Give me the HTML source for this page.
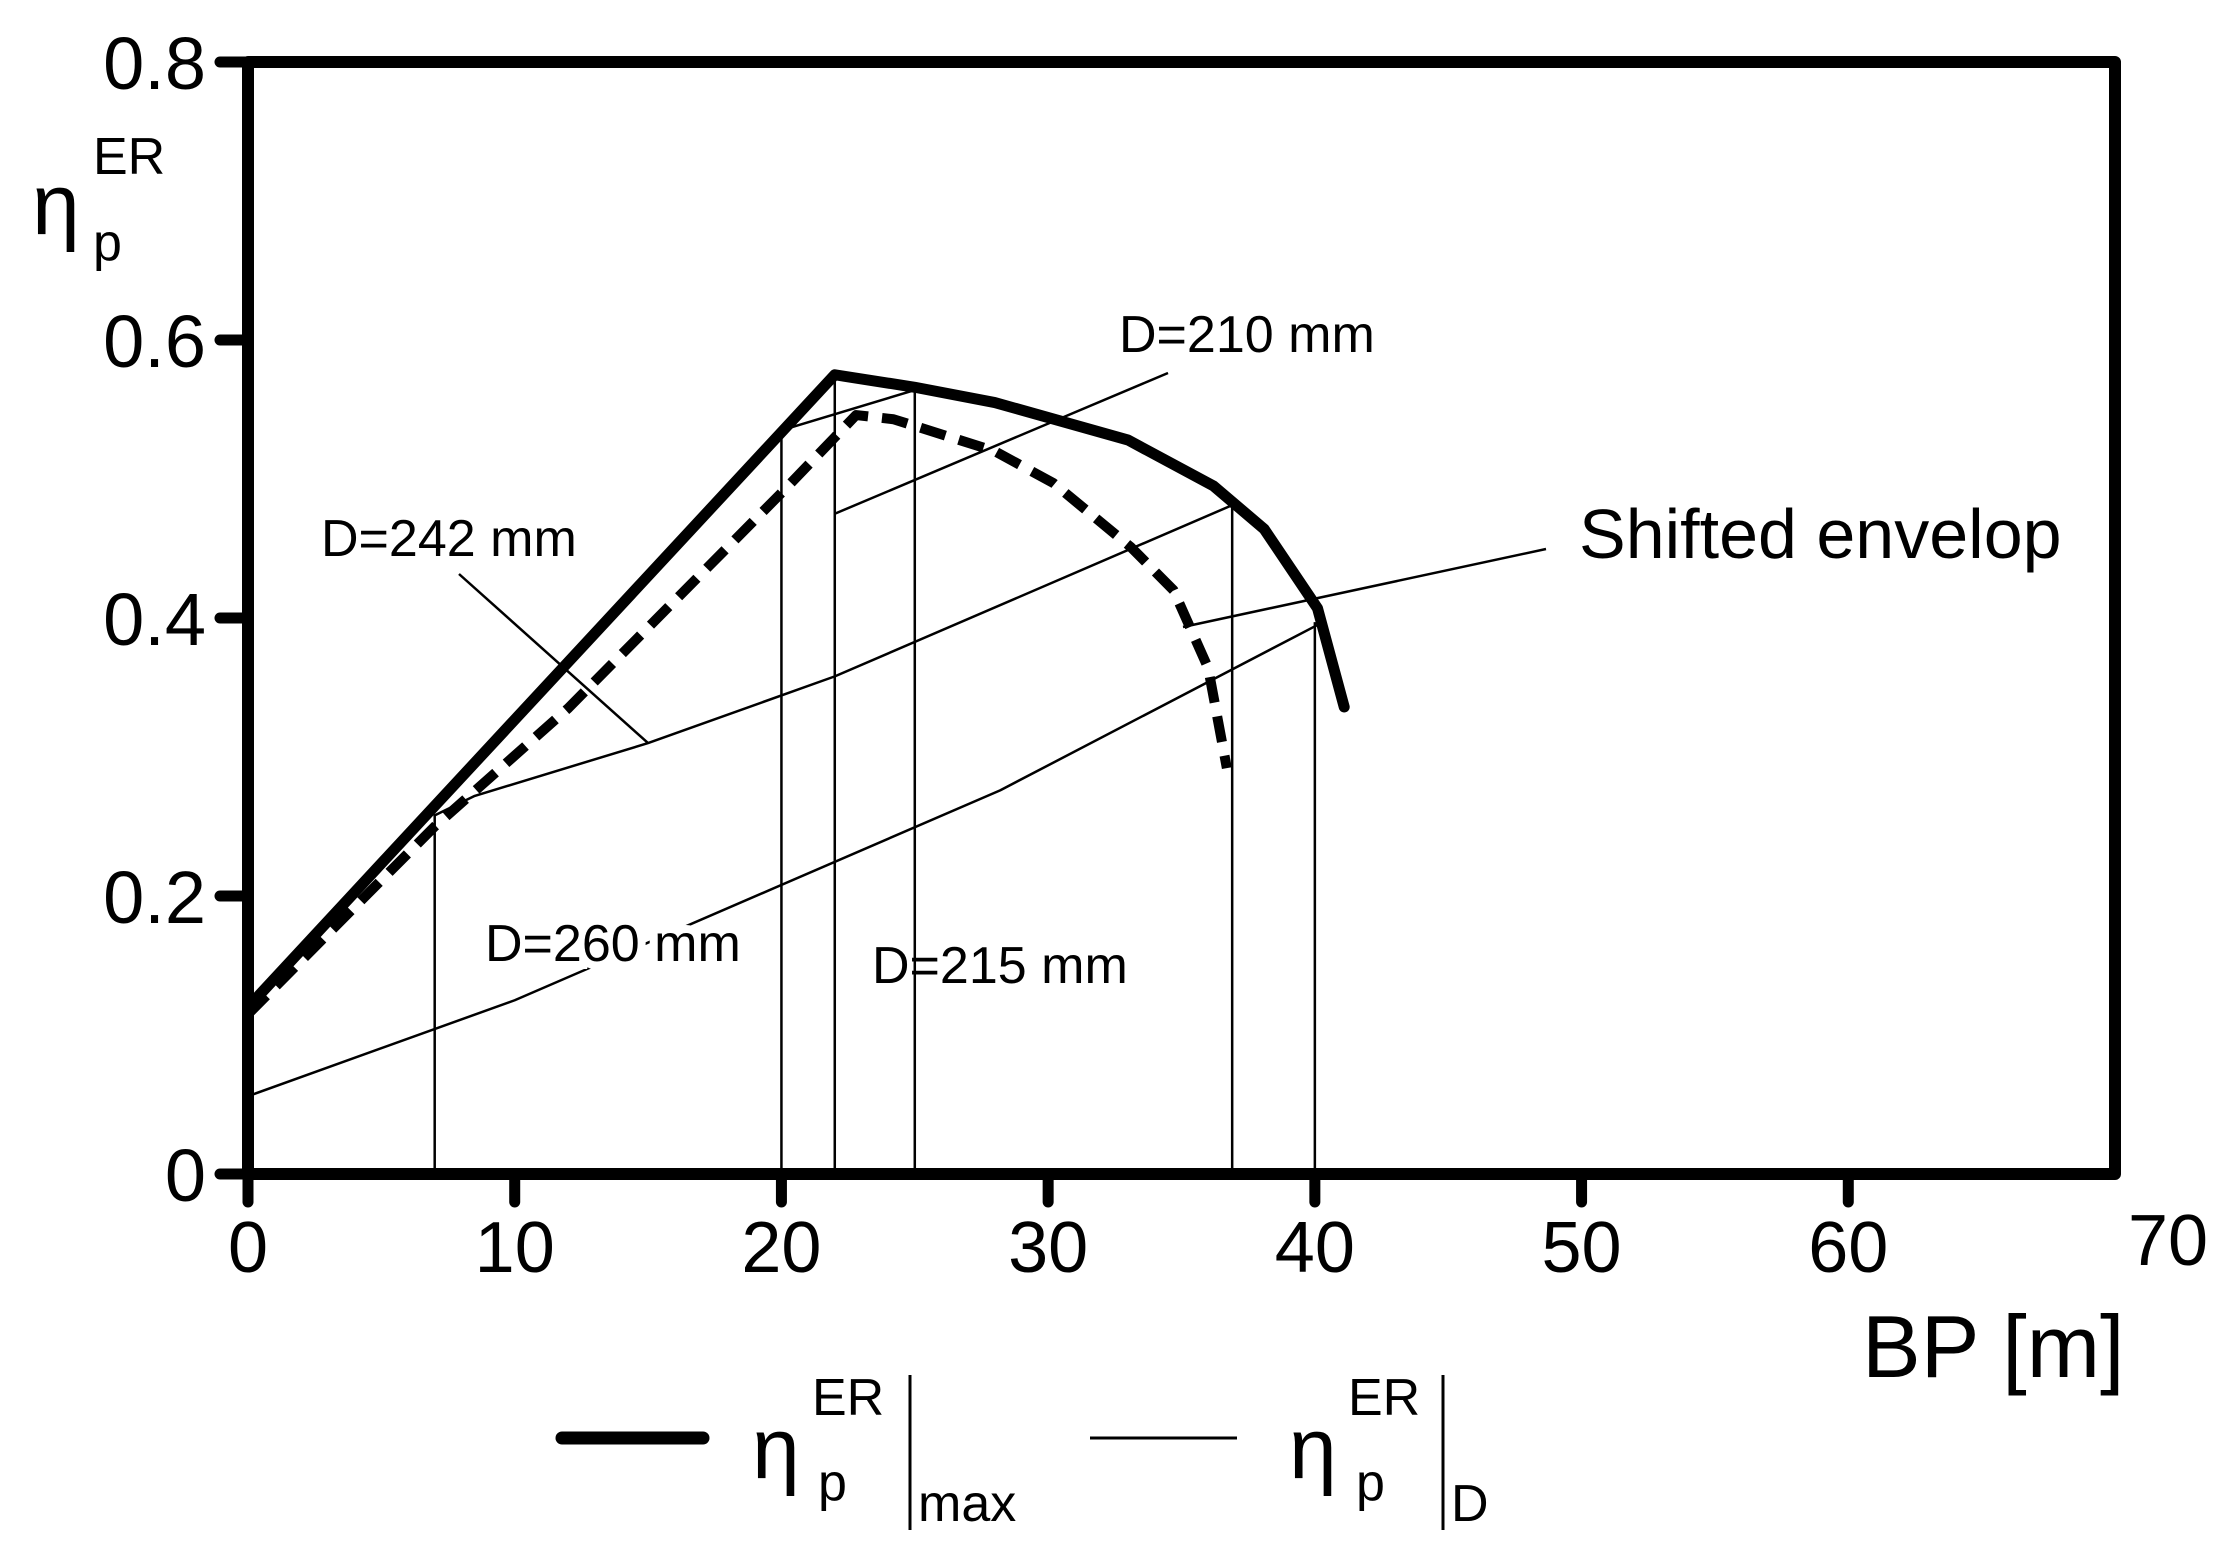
<!DOCTYPE html>
<html><head><meta charset="utf-8"><style>
html,body{margin:0;padding:0;background:#fff}
svg{display:block}
text{font-family:"Liberation Sans",sans-serif;fill:#000}
</style></head><body>
<svg id="chart" width="2235" height="1563" viewBox="0 0 2235 1563" xmlns="http://www.w3.org/2000/svg">
<g id="plot"></g>
<g id="labels">
  <text x="32" y="234" font-size="86">η</text>
  <text x="93" y="174" font-size="52">ER</text>
  <text x="93" y="260" font-size="52">p</text>
  <text x="1862" y="1377" font-size="88">BP [m]</text>
  <text x="1119" y="352" font-size="52">D=210 mm</text>
  <text x="321" y="556" font-size="52">D=242 mm</text>
  <text x="1579" y="558" font-size="70">Shifted envelop</text>
  <text x="485" y="961" font-size="52" stroke="#fff" stroke-width="16" paint-order="stroke">D=260 mm</text>
  <text x="872" y="983" font-size="52">D=215 mm</text>
</g>
<g id="legend">
  <line x1="562" y1="1438" x2="703" y2="1438" stroke="#000" stroke-width="13" stroke-linecap="round"/>
  <text x="752" y="1478" font-size="86">η</text>
  <text x="812" y="1415" font-size="52">ER</text>
  <text x="818" y="1500" font-size="52">p</text>
  <line x1="910" y1="1375" x2="910" y2="1530" stroke="#000" stroke-width="3"/>
  <text x="918" y="1521" font-size="52">max</text>
  <line x1="1090" y1="1438" x2="1237" y2="1438" stroke="#000" stroke-width="3"/>
  <text x="1289" y="1478" font-size="86">η</text>
  <text x="1348" y="1415" font-size="52">ER</text>
  <text x="1356" y="1500" font-size="52">p</text>
  <line x1="1443" y1="1375" x2="1443" y2="1530" stroke="#000" stroke-width="3"/>
  <text x="1451" y="1521" font-size="52">D</text>
</g>
</svg>
<script>
const xTicks=[0,10,20,30,40,50,60,70];
const yTicks=[0,0.2,0.4,0.6,0.8];
const yTickLabels=["0","0.2","0.4","0.6","0.8"];
const envX=[0,22,25,28,33,36.2,38.1,40.1,41.1];
const envY=[0.12,0.575,0.566,0.555,0.528,0.495,0.464,0.407,0.336];
const shiftX=[0,7,12,20,22,22.8,24.2,28,30.2,33.1,34.7,36,36.7];
const shiftY=[0.115,0.25,0.335,0.49,0.53,0.546,0.543,0.52,0.497,0.451,0.42,0.364,0.292];
const d260X=[0,10,28.2,40.1];
const d260Y=[0.056,0.125,0.276,0.395];
const d242X=[7,8.5,15,22,37];
const d242Y=[0.258,0.272,0.31,0.358,0.482];
const d215X=[20,25];
const d215Y=[0.535,0.564];
const vertX=[7,20,22,25,36.9,40];
const vertTop=[0.258,0.535,0.575,0.566,0.482,0.397];

const X0=248,X1=2115,Y0=1174,Y1=62;
const sx=v=>X0+(X1-X0)*v/70;
const sy=v=>Y0-(Y0-Y1)*v/0.8;
const NS="http://www.w3.org/2000/svg";
const g=document.getElementById('plot');
function mk(tag,attrs){const e=document.createElementNS(NS,tag);for(const k in attrs)e.setAttribute(k,attrs[k]);g.appendChild(e);return e;}
function poly(xs,ys,w,dash){const p=xs.map((x,i)=>sx(x)+','+sy(ys[i])).join(' ');
 const e=mk('polyline',{points:p,fill:'none',stroke:'#000','stroke-width':w,'stroke-linejoin':'round','stroke-linecap':dash?'butt':'round'});
 if(dash)e.setAttribute('stroke-dasharray',dash);return e;}

vertX.forEach((x,i)=>{const e=mk('line',{x1:sx(x),y1:Y0,x2:sx(x),y2:sy(vertTop[i]),stroke:'#000','stroke-width':2.5});

});

let e;
e=poly(d260X,d260Y,2.5);


e=poly(d242X,d242Y,2.5);


e=poly(d215X,d215Y,2.5);


e=mk('line',{x1:sx(22),y1:sy(0.475),x2:1168,y2:373,stroke:'#000','stroke-width':2.5});


e=mk('line',{x1:459,y1:574,x2:sx(15),y2:sy(0.31),stroke:'#000','stroke-width':2.5});


e=mk('line',{x1:1183,y1:627,x2:1546,y2:549,stroke:'#000','stroke-width':2.5});



e=poly(shiftX,shiftY,10,'26 14');


e=poly(envX,envY,11);



e=mk('rect',{x:X0,y:Y1,width:X1-X0,height:Y0-Y1,fill:'none',stroke:'#000','stroke-width':12,'stroke-linejoin':'round'});



xTicks.forEach((t,i)=>{
 if(t<70){const l=mk('line',{x1:sx(t),y1:Y0,x2:sx(t),y2:Y0+28,stroke:'#000','stroke-width':11,'stroke-linecap':'round'});
 
 }
 const tx=mk('text',{x:t<70?sx(t):sx(t)+53,y:t<70?1272:1265,'font-size':72,'text-anchor':'middle'});
 tx.textContent=String(t);
 
 
});
yTicks.forEach((t,i)=>{
 const l=mk('line',{x1:X0-28,y1:sy(t),x2:X0,y2:sy(t),stroke:'#000','stroke-width':11,'stroke-linecap':'round'});
 
 
 const tx=mk('text',{x:206,y:sy(t)+27,'font-size':74,'text-anchor':'end'});
 tx.textContent=yTickLabels[i];
 
 
});
</script>
</body></html>
